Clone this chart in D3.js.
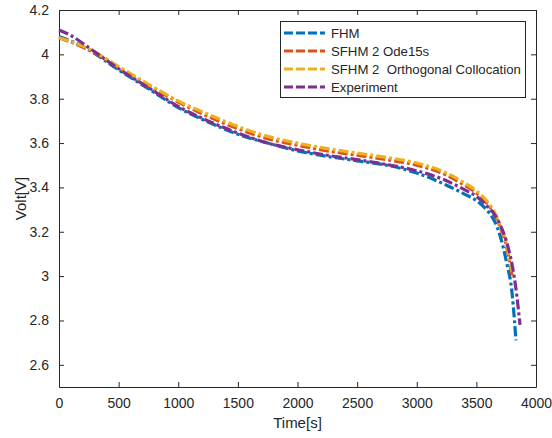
<!DOCTYPE html>
<html>
<head>
<meta charset="utf-8">
<script src="https://cdn.jsdelivr.net/npm/d3@7"></script>
<style>
body { margin: 0; background: #fff; }
text { font-family: "Liberation Sans", Arial, sans-serif; fill: #262626; }
</style>
</head>
<body>
<svg width="552" height="438"></svg>
<script>
// data
var seriesNames = ["FHM", "SFHM 2 Ode15s", "SFHM 2  Orthogonal Collocation", "Experiment"];
var seriesColors = ["#0072BD", "#D95319", "#EDB120", "#7E2F8E"];

var fhmT = [0, 100, 250, 500, 750, 1000, 1250, 1500, 1750, 2000, 2250, 2500, 2750, 3000, 3250, 3400, 3500, 3600, 3650, 3700, 3750, 3800, 3832];
var fhmV = [4.08, 4.06, 4.02, 3.93, 3.845, 3.76, 3.695, 3.64, 3.60, 3.565, 3.54, 3.52, 3.50, 3.465, 3.41, 3.37, 3.34, 3.29, 3.25, 3.18, 3.07, 2.92, 2.71];

var odeT = [0, 250, 500, 750, 1000, 1250, 1500, 1750, 2000, 2250, 2500, 2750, 3000, 3250, 3400, 3500, 3600, 3650, 3700, 3750, 3800];
var odeV = [4.075, 4.02, 3.94, 3.86, 3.785, 3.72, 3.665, 3.62, 3.59, 3.565, 3.545, 3.525, 3.50, 3.455, 3.41, 3.375, 3.32, 3.28, 3.22, 3.14, 3.00];

var ocT = [0, 250, 500, 750, 1000, 1250, 1500, 1750, 2000, 2250, 2500, 2750, 3000, 3250, 3400, 3500, 3600, 3650, 3700, 3750, 3800];
var ocV = [4.075, 4.025, 3.945, 3.865, 3.79, 3.73, 3.675, 3.63, 3.60, 3.575, 3.555, 3.535, 3.51, 3.465, 3.42, 3.385, 3.33, 3.29, 3.23, 3.15, 3.02];

var expT = [0, 100, 250, 500, 750, 1000, 1250, 1500, 1750, 2000, 2250, 2500, 2750, 3000, 3250, 3400, 3500, 3600, 3650, 3700, 3750, 3800, 3830, 3866];
var expV = [4.11, 4.085, 4.03, 3.935, 3.85, 3.765, 3.70, 3.645, 3.60, 3.57, 3.545, 3.525, 3.503, 3.475, 3.43, 3.39, 3.36, 3.31, 3.28, 3.23, 3.16, 3.05, 2.95, 2.78];

var xTicks = [0, 500, 1000, 1500, 2000, 2500, 3000, 3500, 4000];
var yTicks = [2.6, 2.8, 3, 3.2, 3.4, 3.6, 3.8, 4, 4.2];

var plotLeft = 59, plotRight = 536, plotTop = 10, plotBottom = 387;
var svg = d3.select("svg");

var x = d3.scaleLinear().domain([0, 4000]).range([plotLeft, plotRight]);
var y = d3.scaleLinear().domain([2.5, 4.2]).range([plotBottom, plotTop]);

//Axes with inward ticks
function styleAxis(g) {
    g.selectAll("path").attr("stroke", "#262626");
    g.selectAll("line").attr("stroke", "#262626");
    g.selectAll("text").style("font-size", "14px").attr("fill", "#262626");
}

svg.append("g")
    .attr("transform", "translate(0," + plotBottom + ")")
    .call(d3.axisBottom(x).tickValues(xTicks).tickSizeInner(-5).tickSizeOuter(0).tickPadding(11).tickFormat(d3.format("d")))
    .call(styleAxis);
svg.append("g")
    .attr("transform", "translate(0," + plotTop + ")")
    .call(d3.axisTop(x).tickValues(xTicks).tickSizeInner(-5).tickSizeOuter(0).tickFormat(""))
    .call(styleAxis);
svg.append("g")
    .attr("transform", "translate(" + plotLeft + ",0)")
    .call(d3.axisLeft(y).tickValues(yTicks).tickSizeInner(-5).tickSizeOuter(0).tickPadding(10).tickFormat(d3.format("")))
    .call(styleAxis);
svg.append("g")
    .attr("transform", "translate(" + plotRight + ",0)")
    .call(d3.axisRight(y).tickValues(yTicks).tickSizeInner(-5).tickSizeOuter(0).tickFormat(""))
    .call(styleAxis);

svg.selectAll(".domain").attr("stroke-width", 1);

//Series lines
var series = [
    {t: fhmT, v: fhmV},
    {t: odeT, v: odeV},
    {t: ocT, v: ocV},
    {t: expT, v: expV}
];

var line = d3.line()
    .x(function(d) { return x(d[0]); })
    .y(function(d) { return y(d[1]); })
    .curve(d3.curveMonotoneX);

series.forEach(function(s, i) {
    var pts = s.t.map(function(t, j) { return [t, s.v[j]]; });
    svg.append("path")
        .datum(pts)
        .attr("fill", "none")
        .attr("stroke", seriesColors[i])
        .attr("stroke-width", 3.2)
        .attr("stroke-dasharray", "10,3,3,3")
        .attr("d", line);
});

//Legend
var lg = svg.append("g");
lg.append("rect")
    .attr("x", 280.5).attr("y", 21.5)
    .attr("width", 245).attr("height", 76)
    .attr("fill", "#fff").attr("stroke", "#262626").attr("stroke-width", 1);
seriesNames.forEach(function(name, i) {
    var yy = 33 + i * 18;
    lg.append("line")
        .attr("x1", 284).attr("x2", 325)
        .attr("y1", yy).attr("y2", yy)
        .attr("stroke", seriesColors[i])
        .attr("stroke-width", 3)
        .attr("stroke-dasharray", "9,3");
    lg.append("text")
        .attr("x", 331).attr("y", yy + 4.5)
        .style("font-size", "13.2px")
        .style("white-space", "pre")
        .text(name);
});

//Axis titles
svg.append("text")
    .attr("x", (plotLeft + plotRight) / 2).attr("y", 428)
    .attr("text-anchor", "middle")
    .style("font-size", "15px")
    .text("Time[s]");
svg.append("text")
    .attr("transform", "translate(26," + (plotTop + plotBottom) / 2 + ") rotate(-90)")
    .attr("text-anchor", "middle")
    .style("font-size", "15px")
    .text("Volt[V]");
</script>
</body>
</html>
